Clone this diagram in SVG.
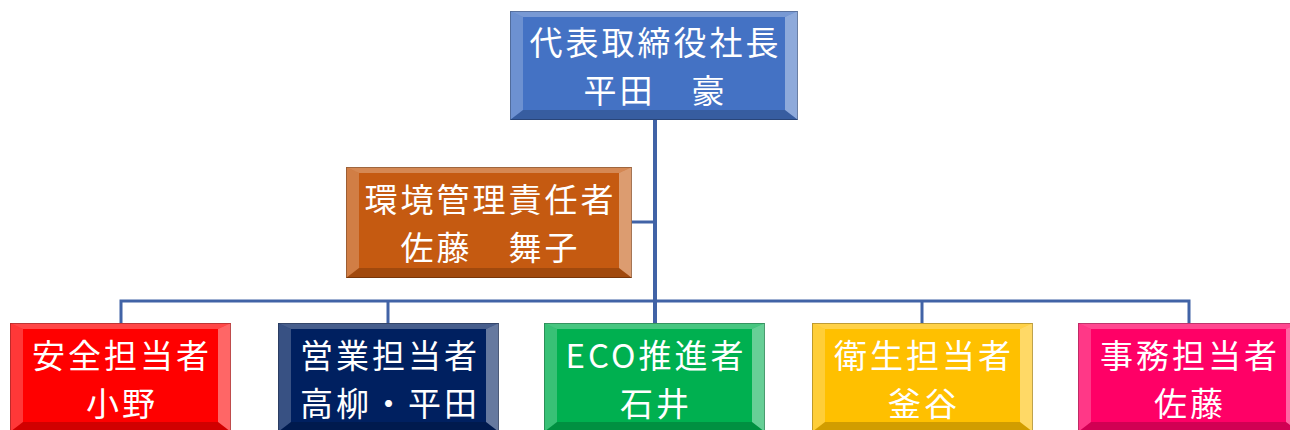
<svg xmlns="http://www.w3.org/2000/svg" xmlns:xlink="http://www.w3.org/1999/xlink" width="1290" height="430" viewBox="0 0 1290 430">
<style>
.t{font-family:"Noto Sans CJK JP","Noto Sans",sans-serif;font-size:33px;letter-spacing:3px;fill:#fff;text-anchor:middle}
.bt{fill:#fff;fill-opacity:.28}
.bl{fill:#fff;fill-opacity:.22}
.br{fill:#fff;fill-opacity:.4}
.bb{fill:#000;fill-opacity:.18}
.edge{fill:none;stroke:#000;stroke-opacity:.25;stroke-width:1}
.c{fill:none;stroke:#4163a6;stroke-width:3}
</style>
<defs>
<g id="bevS">
<polygon class="bt" points="0,0 221,0 208,6 13,6"/>
<polygon class="bl" points="0,0 13,6 13,99 0,109"/>
<polygon class="br" points="221,0 208,6 208,99 221,109"/>
<polygon class="bb" points="0,109 13,99 208,99 221,109"/>
<rect class="edge" x="0.5" y="0.5" width="220" height="108"/>
</g>
</defs>
<g id="connectors">
<line class="c" x1="655" y1="119" x2="655" y2="323" style="stroke-width:4"/>
<line class="c" x1="632" y1="222" x2="655" y2="222"/>
<polyline class="c" points="121,323 121,301 1189,301 1189,323"/>
<line class="c" x1="388" y1="301" x2="388" y2="323"/>
<line class="c" x1="922" y1="301" x2="922" y2="323"/>
</g>
<g id="president" transform="translate(510,11)">
<rect width="288" height="109" fill="#4472c4"/>
<polygon class="bt" points="0,0 288,0 275,6 13,6"/>
<polygon class="bl" points="0,0 13,6 13,99 0,109"/>
<polygon class="br" points="288,0 275,6 275,99 288,109"/>
<polygon class="bb" points="0,109 13,99 275,99 288,109"/>
<rect class="edge" x="0.5" y="0.5" width="287" height="108"/>
<text class="t" x="145.5" y="44">代表取締役社長</text>
<text class="t" x="145.5" y="92">平田　豪</text>
</g>
<g id="env-manager" transform="translate(346,167)">
<rect width="286" height="111" fill="#c55a11"/>
<polygon class="bt" points="0,0 286,0 273,6 13,6"/>
<polygon class="bl" points="0,0 13,6 13,101 0,111"/>
<polygon class="br" points="286,0 273,6 273,101 286,111"/>
<polygon class="bb" points="0,111 13,101 273,101 286,111"/>
<rect class="edge" x="0.5" y="0.5" width="285" height="110"/>
<text class="t" x="144.5" y="45">環境管理責任者</text>
<text class="t" x="144.5" y="93">佐藤　舞子</text>
</g>
<g id="safety" transform="translate(10,323)">
<rect width="221" height="109" fill="#ff0000"/>
<use xlink:href="#bevS"/>
<text class="t" x="112" y="45">安全担当者</text>
<text class="t" x="112" y="93">小野</text>
</g>
<g id="sales" transform="translate(278,323)">
<rect width="221" height="109" fill="#002060"/>
<use xlink:href="#bevS"/>
<text class="t" x="112" y="45">営業担当者</text>
<text class="t" x="112" y="93">高柳・平田</text>
</g>
<g id="eco" transform="translate(544,323)">
<rect width="221" height="109" fill="#00b050"/>
<use xlink:href="#bevS"/>
<text class="t" x="112" y="45">ECO推進者</text>
<text class="t" x="112" y="93">石井</text>
</g>
<g id="hygiene" transform="translate(812,323)">
<rect width="221" height="109" fill="#ffc000"/>
<use xlink:href="#bevS"/>
<text class="t" x="112" y="45">衛生担当者</text>
<text class="t" x="112" y="93">釜谷</text>
</g>
<g id="office" transform="translate(1078,323)">
<rect width="221" height="109" fill="#ff0066"/>
<use xlink:href="#bevS"/>
<text class="t" x="112" y="45">事務担当者</text>
<text class="t" x="112" y="93">佐藤</text>
</g>
</svg>
